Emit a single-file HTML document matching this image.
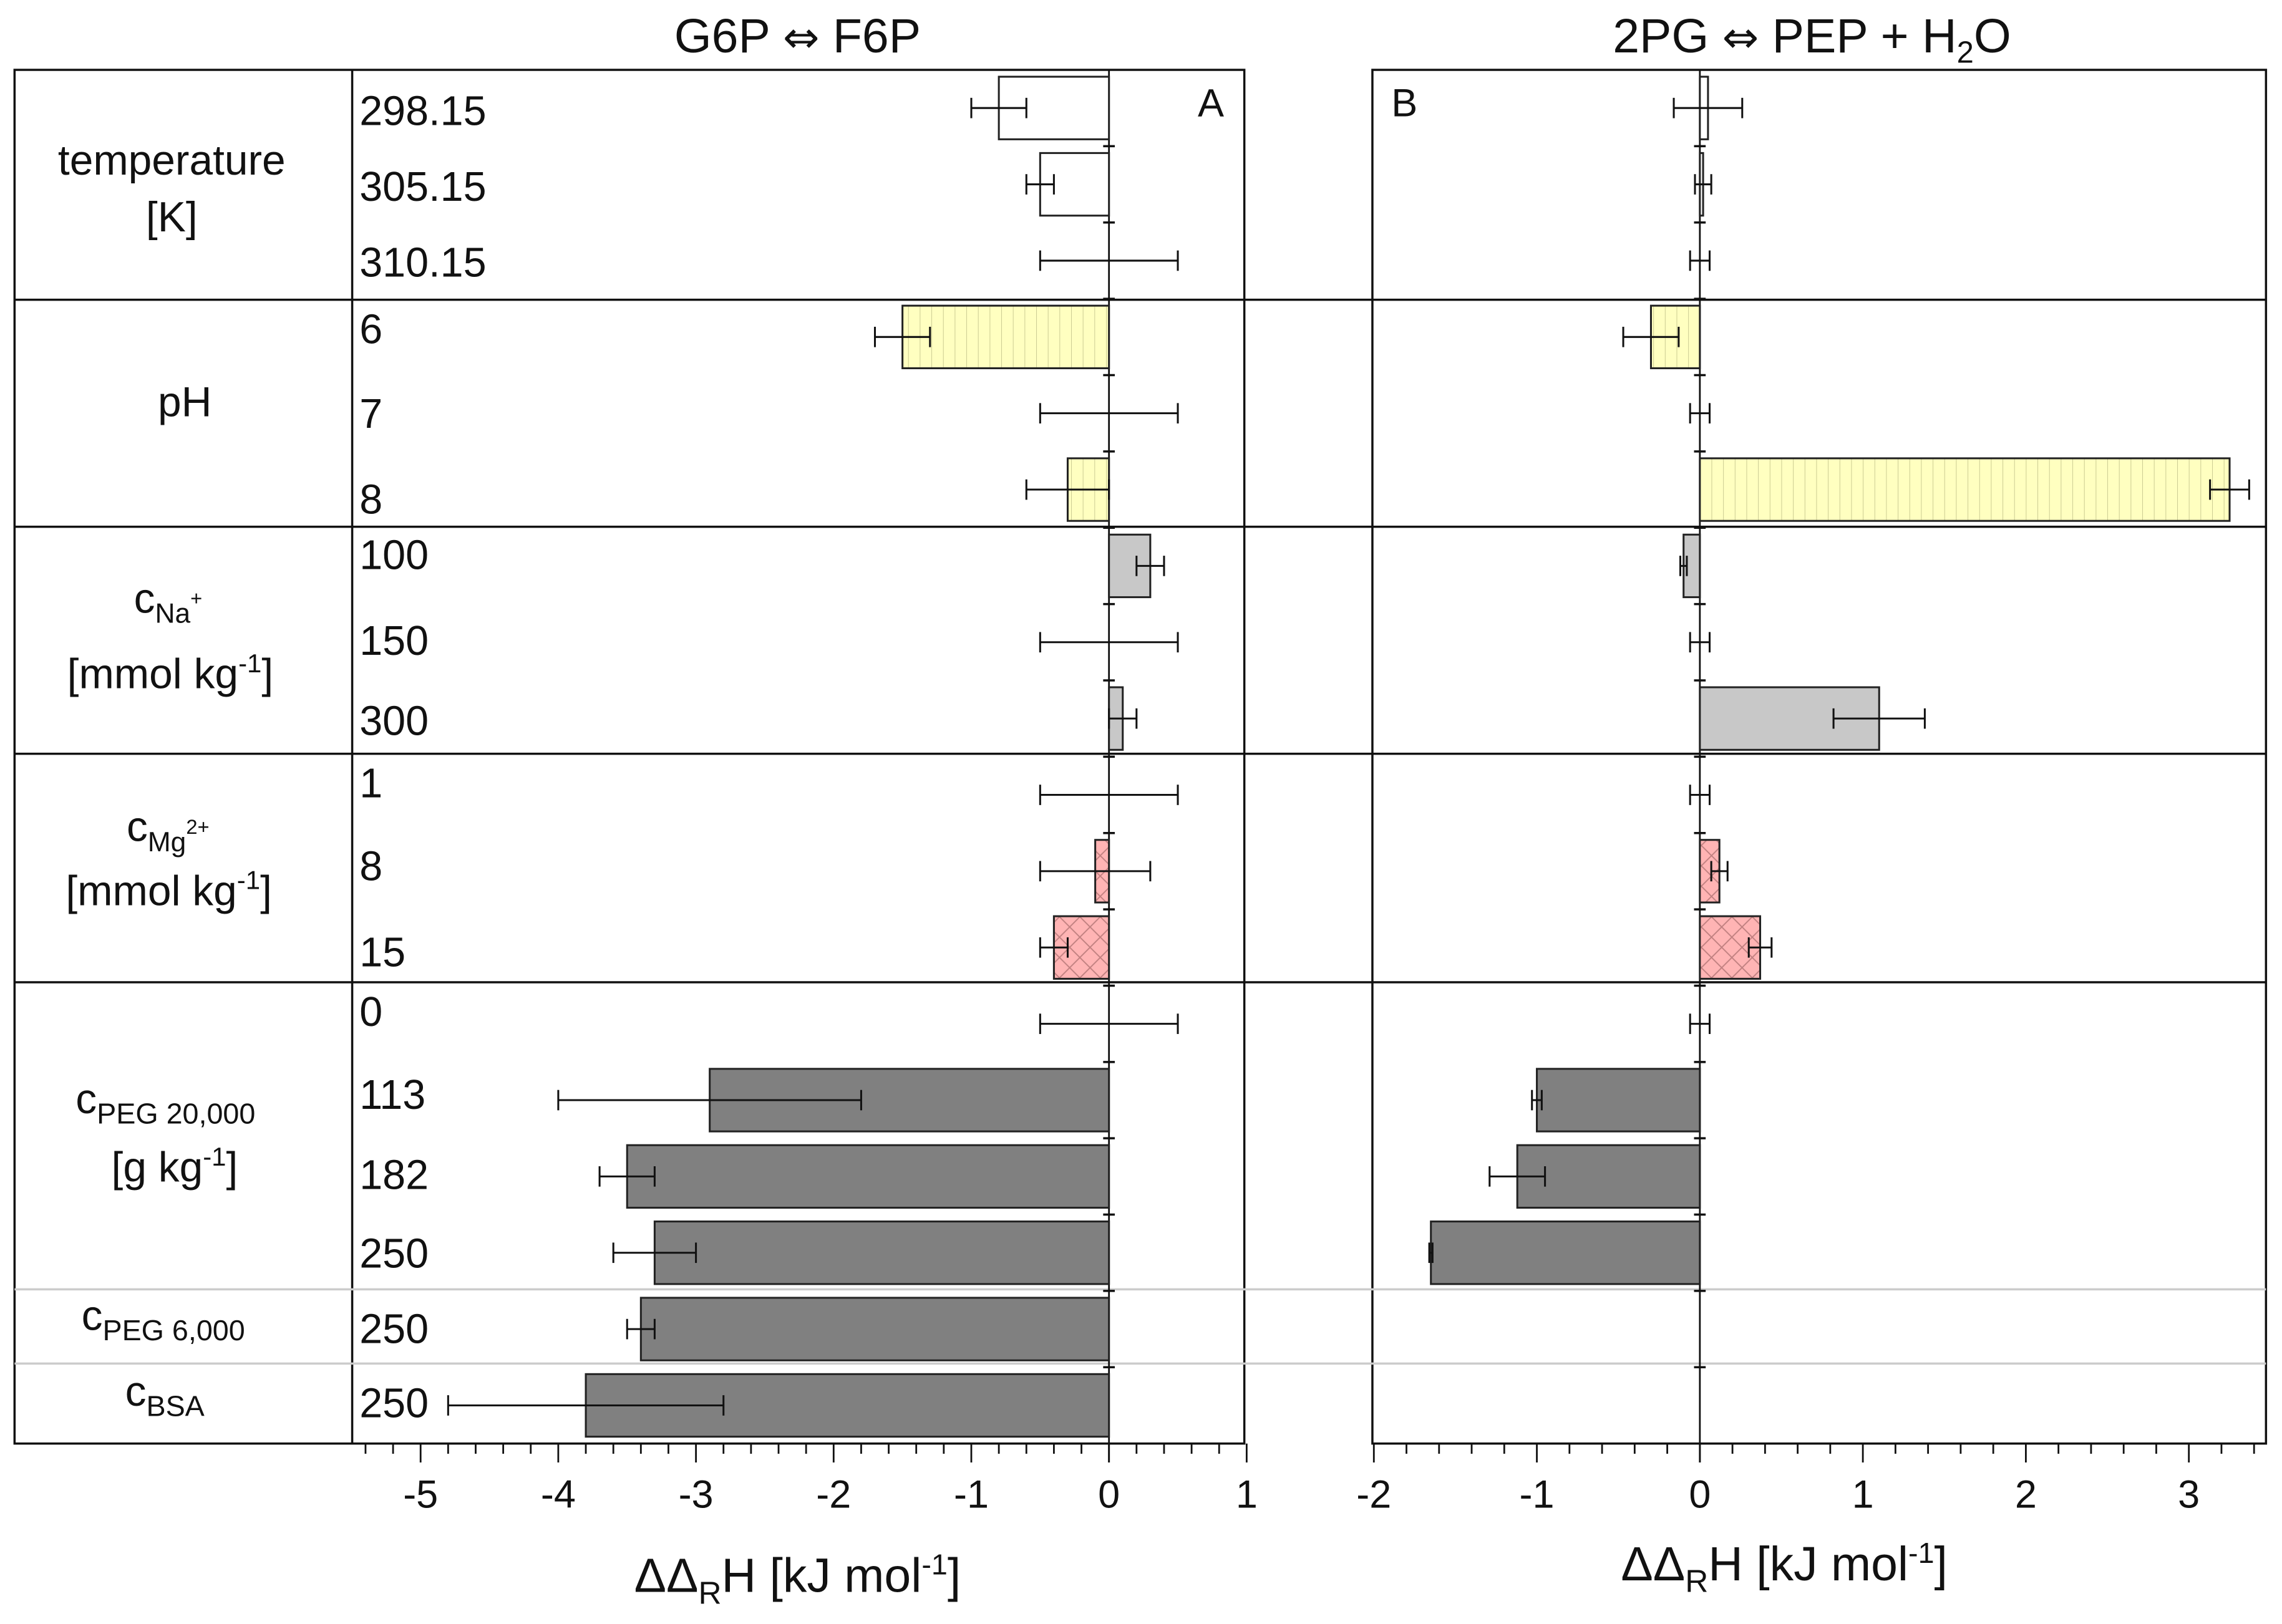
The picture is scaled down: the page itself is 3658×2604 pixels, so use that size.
<!DOCTYPE html>
<html><head><meta charset="utf-8"><style>
html,body{margin:0;padding:0;background:#fff}
svg{display:block}
text{font-family:"Liberation Sans",sans-serif;fill:#111}
</style></head><body>
<svg id="chart" width="3658" height="2604" viewBox="0 0 1568 1116" preserveAspectRatio="none" xmlns="http://www.w3.org/2000/svg">
<defs>
<pattern id="vhatch" width="8" height="10" patternUnits="userSpaceOnUse"><rect width="8" height="10" fill="#ffffc0"/><line x1="0" y1="0" x2="0" y2="10" stroke="#c8c890" stroke-width="0.8"/></pattern>
<pattern id="xhatch" width="14" height="14" patternUnits="userSpaceOnUse"><rect width="14" height="14" fill="#ffb4b4"/><path d="M0,0L14,14M14,0L0,14" stroke="#c08080" stroke-width="0.8"/></pattern>
</defs>
<g id="frame"></g>
<g id="marks"></g>
</svg>
<script>
const categories = ["298.15","305.15","310.15","6","7","8","100","150","300","1","8","15","0","113","182","250","250","250"];
const fills = ["#fff","#fff","#fff","url(#vhatch)","url(#vhatch)","url(#vhatch)","#c8c8c8","#c8c8c8","#c8c8c8","url(#xhatch)","url(#xhatch)","url(#xhatch)","#808080","#808080","#808080","#808080","#808080","#808080"];
const valuesA = [-0.8,-0.5,0,-1.5,0,-0.3,0.3,0,0.1,0,-0.1,-0.4,0,-2.9,-3.5,-3.3,-3.4,-3.8];
const errCenterA = [-0.8,-0.5,0,-1.5,0,-0.3,0.3,0,0.1,0,-0.1,-0.4,0,-2.9,-3.5,-3.3,-3.4,-3.8];
const errorsA = [0.2,0.1,0.5,0.2,0.5,0.3,0.1,0.5,0.1,0.5,0.4,0.1,0.5,1.1,0.2,0.3,0.1,1.0];
const valuesB = [0.05,0.02,0,-0.3,0,3.25,-0.1,0,1.1,0,0.12,0.37,0,-1.0,-1.12,-1.65,null,null];
const errorsB = [0.21,0.05,0.06,0.17,0.06,0.12,0.02,0.06,0.28,0.06,0.05,0.07,0.06,0.03,0.17,0.01,null,null];
const ticksA = [-5,-4,-3,-2,-1,0,1];
const ticksB = [-2,-1,0,1,2,3];
const labelY = [85,137,189,235,293,352,390,449,504,547,604,663,704,761,816,870,922,973];

const NS="http://www.w3.org/2000/svg";
const frame=document.getElementById('frame'), marks=document.getElementById('marks');
function el(tag,attrs,parent,txt){const e=document.createElementNS(NS,tag);for(const k in attrs)e.setAttribute(k,attrs[k]);if(txt!==undefined)e.textContent=txt;(parent||marks).appendChild(e);return e;}
const top0=48, bot=992, rowH=(bot-top0)/18;
const rowY=i=>top0+rowH*(i+0.5);
const xA=v=>762+v*94.6;
const xB=v=>1168+v*112;
let e;
e=el('rect',{x:10,y:48,width:845,height:944,fill:'none',stroke:'#111','stroke-width':1.5},frame);

e=el('rect',{x:943,y:48,width:614,height:944,fill:'none',stroke:'#111','stroke-width':1.5},frame);

e=el('line',{x1:242,y1:48,x2:242,y2:992,stroke:'#111','stroke-width':1.5},frame);

[206,362,518,675].forEach(y=>{e=el('line',{x1:10,y1:y,x2:1557,y2:y,stroke:'#111','stroke-width':1.5},frame);
});
[886,937].forEach(y=>{e=el('line',{x1:10,y1:y,x2:1557,y2:y,stroke:'#ccc','stroke-width':1.5},frame);
});
e=el('line',{x1:xA(0),y1:48,x2:xA(0),y2:1005,stroke:'#111','stroke-width':1.2});

e=el('line',{x1:xB(0),y1:48,x2:xB(0),y2:1005,stroke:'#111','stroke-width':1.2});

for(let i=1;i<18;i++){const y=top0+rowH*i;
 e=el('line',{x1:xA(0)-4,y1:y,x2:xA(0)+4,y2:y,stroke:'#111','stroke-width':1.5});
 
 e=el('line',{x1:xB(0)-4,y1:y,x2:xB(0)+4,y2:y,stroke:'#111','stroke-width':1.5});
 }
const bh=43;
function bar(x0,v,i,name){const x1=Math.min(x0(0),x0(v)),w=Math.abs(x0(v)-x0(0));
 const r=el('rect',{x:x1,y:rowY(i)-bh/2,width:w,height:bh,fill:fills[i],stroke:'#222','stroke-width':1.3});
 }
function err(x0,c,d,i,name){const y=rowY(i),a=x0(c-d),b=x0(c+d);
 const g=el('g',{stroke:'#111','stroke-width':1.3});
 
 el('line',{x1:a,y1:y,x2:b,y2:y},g);el('line',{x1:a,y1:y-7,x2:a,y2:y+7},g);el('line',{x1:b,y1:y-7,x2:b,y2:y+7},g);}
for(let i=0;i<18;i++){
 if(valuesA[i]!==0)bar(xA,valuesA[i],i,'bar-a-'+i);
 err(xA,errCenterA[i],errorsA[i],i,'error-bar-a-'+i);
 if(valuesB[i]!==null){if(valuesB[i]!==0)bar(xB,valuesB[i],i,'bar-b-'+i);err(xB,valuesB[i],errorsB[i],i,'error-bar-b-'+i);}
 e=el('text',{x:247,y:labelY[i]+1,'font-size':28.5},marks,categories[i]);
 
}
function axis(x0,lo,hi,ticks,name){
 for(let k=Math.round(lo*5);k<=Math.round(hi*5);k++){const v=k/5,maj=Math.abs(v-Math.round(v))<1e-6;
  e=el('line',{x1:x0(v),y1:992,x2:x0(v),y2:992+(maj?13:7),stroke:'#111','stroke-width':1.2});
  }
 ticks.forEach(t=>{e=el('text',{x:x0(t),y:1036,'font-size':27,'text-anchor':'middle'},marks,t<0?'-'+Math.abs(t):String(t));
  });
}
axis(xA,-5.4,1,ticksA,'x-axis-a');
axis(xB,-2,3.4,ticksB,'x-axis-b');
</script>
<svg style="position:absolute;left:0;top:0" width="3658" height="2604" viewBox="0 0 1568 1116" preserveAspectRatio="none" xmlns="http://www.w3.org/2000/svg">
<g font-family="Liberation Sans, sans-serif" fill="#111">
<text x="548" y="36" font-size="33" text-anchor="middle">G6P <tspan font-family="DejaVu Sans" font-size="30">⇔</tspan> F6P</text>
<text x="1245" y="36" font-size="33" text-anchor="middle">2PG <tspan font-family="DejaVu Sans" font-size="30">⇔</tspan> PEP + H<tspan font-size="21" dy="7">2</tspan><tspan dy="-7">O</tspan></text>
<text x="823" y="80" font-size="27">A</text>
<text x="956" y="80" font-size="27">B</text>
<text x="118" y="120" font-size="29" text-anchor="middle">temperature</text>
<text x="118" y="159" font-size="29" text-anchor="middle">[K]</text>
<text x="127" y="286" font-size="29" text-anchor="middle">pH</text>
<text x="92" y="421" font-size="29">c<tspan font-size="19" dy="7">Na</tspan><tspan font-size="14" dy="-12">+</tspan></text>
<text x="117" y="473" font-size="29" text-anchor="middle">[mmol kg<tspan font-size="18" dy="-11">-1</tspan><tspan dy="11">]</tspan></text>
<text x="87" y="578" font-size="29">c<tspan font-size="19" dy="7">Mg</tspan><tspan font-size="14" dy="-12">2+</tspan></text>
<text x="116" y="622" font-size="29" text-anchor="middle">[mmol kg<tspan font-size="18" dy="-11">-1</tspan><tspan dy="11">]</tspan></text>
<text x="52" y="765" font-size="29">c<tspan font-size="20" dy="7">PEG 20,000</tspan></text>
<text x="120" y="812" font-size="29" text-anchor="middle">[g kg<tspan font-size="18" dy="-11">-1</tspan><tspan dy="11">]</tspan></text>
<text x="56" y="914" font-size="29">c<tspan font-size="20" dy="7">PEG 6,000</tspan></text>
<text x="86" y="966" font-size="29">c<tspan font-size="20" dy="7">BSA</tspan></text>
<text x="548" y="1094" font-size="33" text-anchor="middle">ΔΔ<tspan font-size="22" dy="8">R</tspan><tspan dy="-8">H [kJ mol</tspan><tspan font-size="20" dy="-12">-1</tspan><tspan dy="12">]</tspan></text>
<text x="1226" y="1086" font-size="33" text-anchor="middle">ΔΔ<tspan font-size="22" dy="8">R</tspan><tspan dy="-8">H [kJ mol</tspan><tspan font-size="20" dy="-12">-1</tspan><tspan dy="12">]</tspan></text>
</g>
</svg>
</body></html>
